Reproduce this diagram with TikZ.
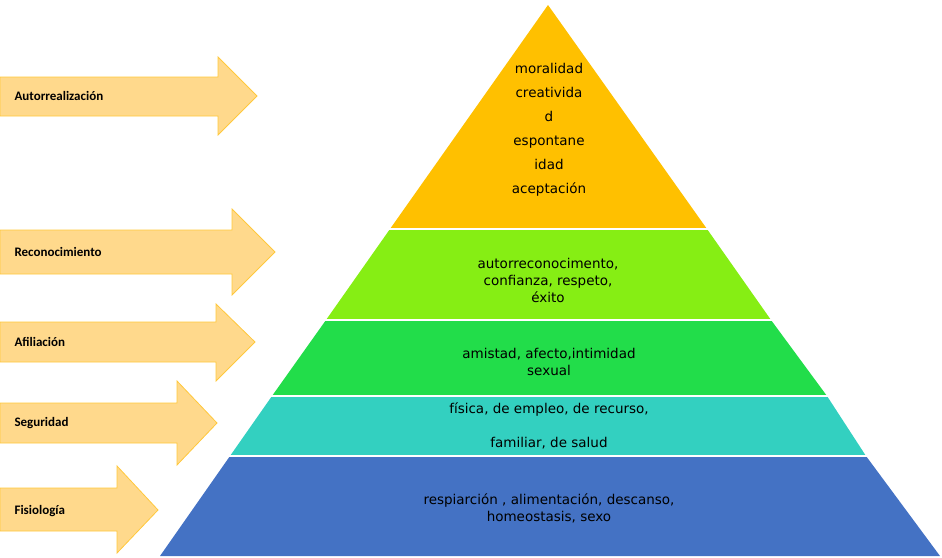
\documentclass[tikz,border=0pt]{standalone}
\usepackage{fontspec}
\setmainfont{DejaVu Sans}
\newfontfamily\lbl{Carlito}
\begin{document}
\begin{tikzpicture}[x=1pt,y=-1pt,
  lay/.style={draw=white,line width=1.5pt},
  arr/.style={fill=arrfill,draw=arrline,line width=0.8pt},
  lab/.style={font=\lbl\bfseries\fontsize{13}{15}\selectfont,anchor=west},
  ptxt/.style={font=\fontsize{13.5}{24}\selectfont,align=center}]
\definecolor{arrfill}{HTML}{FFD98C}
\definecolor{arrline}{HTML}{FFC83C}
\definecolor{c1}{HTML}{FFC000}
\definecolor{c2}{HTML}{86EE14}
\definecolor{c3}{HTML}{22DD4A}
\definecolor{c4}{HTML}{33D0C0}
\definecolor{c5}{HTML}{4472C4}
\useasboundingbox (0,0) rectangle (942,557);
% pyramid layers
\fill[c5] (160,556) -- (230,456) -- (866,456) -- (940,556) -- cycle;
\fill[c4] (230,456) -- (272,396) -- (827,396) -- (866,456) -- cycle;
\fill[c3] (272,396) -- (326,320) -- (771,320) -- (827,396) -- cycle;
\fill[c2] (326,320) -- (390,229) -- (707,229) -- (771,320) -- cycle;
\fill[c1] (390,229) -- (548,5) -- (707,229) -- cycle;
\draw[white,line width=2pt] (220,456)--(880,456) (262,396)--(837,396) (316,320)--(781,320) (380,229)--(717,229);
% texts
\node[ptxt] (t1) at (549,130) {moralidad\\creativida\\d\\espontane\\idad\\aceptación};
\node[ptxt,font=\fontsize{13.5}{17}\selectfont] (t2) at (548,280) {autorreconocimento,\\confianza, respeto,\\éxito};
\node[ptxt,font=\fontsize{13.5}{17}\selectfont] (t3) at (549,362) {amistad, afecto,intimidad\\sexual};
\node[ptxt,font=\fontsize{13.5}{34}\selectfont] (t4) at (549,426) {física, de empleo, de recurso,\\familiar, de salud};
\node[ptxt,font=\fontsize{13.5}{17}\selectfont] (t5) at (549,508) {respiarción , alimentación, descanso,\\homeostasis, sexo};
% arrows
\draw[arr] (0,77)--(218,77)--(218,57)--(257,96)--(218,135)--(218,116)--(0,116)--cycle;
\draw[arr] (0,230)--(232,230)--(232,209)--(275,252)--(232,295)--(232,274)--(0,274)--cycle;
\draw[arr] (0,322)--(216,322)--(216,304)--(255,342)--(216,381)--(216,362)--(0,362)--cycle;
\draw[arr] (0,403)--(177,403)--(177,381)--(217,423)--(177,465)--(177,443)--(0,443)--cycle;
\draw[arr] (0,488)--(117,488)--(117,466)--(158,510)--(117,553)--(117,531)--(0,531)--cycle;
\node[lab] (a1) at (11,96) {Autorrealización};
\node[lab] (a2) at (11,252) {Reconocimiento};
\node[lab] (a3) at (11,342) {Afiliación};
\node[lab] (a4) at (11,423) {Seguridad};
\node[lab] (a5) at (11,511) {Fisiología};
\end{tikzpicture}
\end{document}
